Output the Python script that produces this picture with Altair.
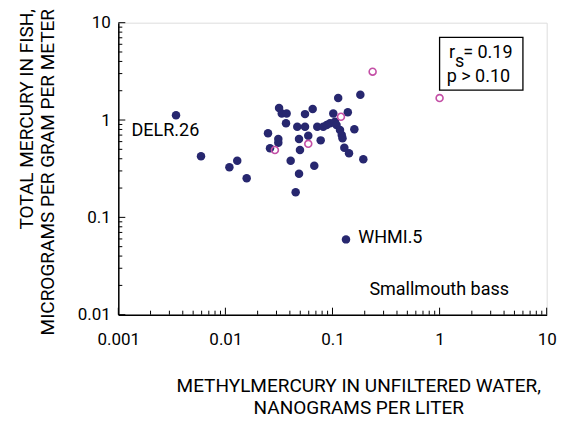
import altair as alt
import pandas as pd

# ---- data ----
fill_x = [0.00346, 0.00592, 0.0109, 0.0129, 0.0158, 0.025, 0.0261, 0.0317, 0.0336, 0.0373,
          0.0554, 0.0653, 0.1017, 0.113, 0.139, 0.182, 0.0368, 0.0469, 0.0554, 0.0721,
          0.082, 0.0883, 0.0948, 0.1055, 0.109, 0.1175, 0.122, 0.124, 0.160, 0.0312,
          0.0312, 0.0487, 0.0594, 0.0776, 0.0497, 0.129, 0.1426, 0.194, 0.0407, 0.0676,
          0.0487, 0.0453, 0.1337]
fill_y = [1.12, 0.424, 0.327, 0.382, 0.252, 0.73, 0.512, 1.33, 1.17, 1.17,
          1.15, 1.30, 1.17, 1.68, 1.20, 1.82, 0.925, 0.853, 0.853, 0.853,
          0.853, 0.888, 0.925, 0.961, 0.888, 0.789, 0.701, 0.649, 0.802, 0.638,
          0.584, 0.638, 0.690, 0.618, 0.492, 0.519, 0.455, 0.395, 0.382, 0.339,
          0.281, 0.181, 0.0594]
open_x = [0.237, 1.0, 0.120, 0.029, 0.0594]
open_y = [3.14, 1.68, 1.08, 0.492, 0.57]

major_x = [0.001, 0.01, 0.1, 1, 10]
major_y = [0.01, 0.1, 1, 10]
minor_x = [m * d for d in [0.001, 0.01, 0.1, 1] for m in range(2, 10)]
minor_y = [m * d for d in [0.01, 0.1, 1] for m in range(2, 10)]

ann_text = ["DELR.26", "WHMI.5", "Smallmouth bass"]
ann_x = [0.00133, 0.174, 0.221]
ann_y = [0.77, 0.0608, 0.0179]

stat_text = ["r", "s", "= 0.19", "p > 0.10"]
stat_x = [1.224, 1.39, 1.66, 1.165]
stat_y = [4.31, 3.48, 4.31, 2.46]
box_x = [1.0]
box_x2 = [6.0]
box_y = [2.03]
box_y2 = [7.08]

FONT = "Roboto, sans-serif"
NAVY = "#27276f"
MAGENTA = "#c44fa6"
W, H = 428.4, 292

xs = alt.Scale(type="log", domain=[0.001, 10], nice=False)
ys = alt.Scale(type="log", domain=[0.01, 10], nice=False)

filled = pd.DataFrame({"x": fill_x, "y": fill_y})
opened = pd.DataFrame({"x": open_x, "y": open_y})

base_axes = alt.Chart(pd.DataFrame({"x": [0.001], "y": [0.01]})).mark_point(opacity=0).encode(
    x=alt.X("x:Q", scale=xs, axis=alt.Axis(
        values=major_x, ticks=False, tickSize=0, grid=False, labelFlush=False,
        labelExpr="'' + datum.value", labelPadding=17, labelFontSize=17, labelFont=FONT,
        labelColor="black", domainColor="black", domainWidth=1.5,
        title=["METHYLMERCURY IN UNFILTERED WATER,", "NANOGRAMS PER LITER"],
        titleFont=FONT, titleFontSize=19, titleFontWeight="normal", titleColor="black",
        titleLineHeight=22, titleX=240, titleY=77, titleBaseline="alphabetic",
        titleAlign="center")),
    y=alt.Y("y:Q", scale=ys, axis=alt.Axis(
        values=major_y, ticks=False, tickSize=0, grid=False, labelFlush=False,
        labelExpr="'' + datum.value", labelPadding=8, labelFontSize=17, labelFont=FONT,
        labelColor="black", domainColor="black", domainWidth=1.5,
        title=["TOTAL MERCURY IN FISH,", "MICROGRAMS PER GRAM PER METER"],
        titleFont=FONT, titleFontSize=19, titleFontWeight="normal", titleColor="black",
        titleLineHeight=21.5, titleAngle=270, titleAlign="right", titleBaseline="top",
        titleX=-101, titleY=-14.2)),
)

xtick_major = alt.Chart(pd.DataFrame({"v": major_x})).mark_rule(color="black", strokeWidth=1).encode(
    x=alt.X("v:Q", scale=xs), y=alt.value(H), y2=alt.value(H - 7))
xtick_minor = alt.Chart(pd.DataFrame({"v": minor_x})).mark_rule(color="black", strokeWidth=1).encode(
    x=alt.X("v:Q", scale=xs), y=alt.value(H), y2=alt.value(H - 4))
ytick_major = alt.Chart(pd.DataFrame({"v": major_y})).mark_rule(color="black", strokeWidth=1).encode(
    y=alt.Y("v:Q", scale=ys), x=alt.value(0), x2=alt.value(7))
ytick_minor = alt.Chart(pd.DataFrame({"v": minor_y})).mark_rule(color="black", strokeWidth=1).encode(
    y=alt.Y("v:Q", scale=ys), x=alt.value(0), x2=alt.value(4))

pts_fill = alt.Chart(filled).mark_circle(size=72, color=NAVY, opacity=1).encode(
    x=alt.X("x:Q", scale=xs), y=alt.Y("y:Q", scale=ys))
pts_open = alt.Chart(opened).mark_point(size=48, color=MAGENTA, strokeWidth=1.6, filled=False, opacity=1).encode(
    x=alt.X("x:Q", scale=xs), y=alt.Y("y:Q", scale=ys))

ann = alt.Chart(pd.DataFrame({"t": ann_text, "x": ann_x, "y": ann_y})).mark_text(
    align="left", baseline="middle", font=FONT, fontSize=18, color="black").encode(
    x=alt.X("x:Q", scale=xs), y=alt.Y("y:Q", scale=ys), text="t:N")

box = alt.Chart(pd.DataFrame({"x": box_x, "x2": box_x2, "y": box_y, "y2": box_y2})).mark_rect(
    fill="white", stroke="black", strokeWidth=1.3).encode(
    x=alt.X("x:Q", scale=xs), x2="x2:Q", y=alt.Y("y:Q", scale=ys), y2="y2:Q")

stats = alt.Chart(pd.DataFrame({"t": stat_text, "x": stat_x, "y": stat_y})).mark_text(
    align="left", baseline="alphabetic", font=FONT, fontSize=18, color="black").encode(
    x=alt.X("x:Q", scale=xs), y=alt.Y("y:Q", scale=ys), text="t:N")

chart = alt.layer(base_axes, xtick_minor, xtick_major, ytick_minor, ytick_major,
                  box, stats, pts_fill, pts_open, ann).properties(
    width=W, height=H,
    autosize=alt.AutoSizeParams(type="none"),
    padding={"left": 110.3, "top": 14.7, "right": 10, "bottom": 110},
).configure_view(stroke="#8a8a8a", strokeWidth=1.5).configure(background="white")

chart.save("out.html", embed_options={"renderer": "svg", "actions": False})
